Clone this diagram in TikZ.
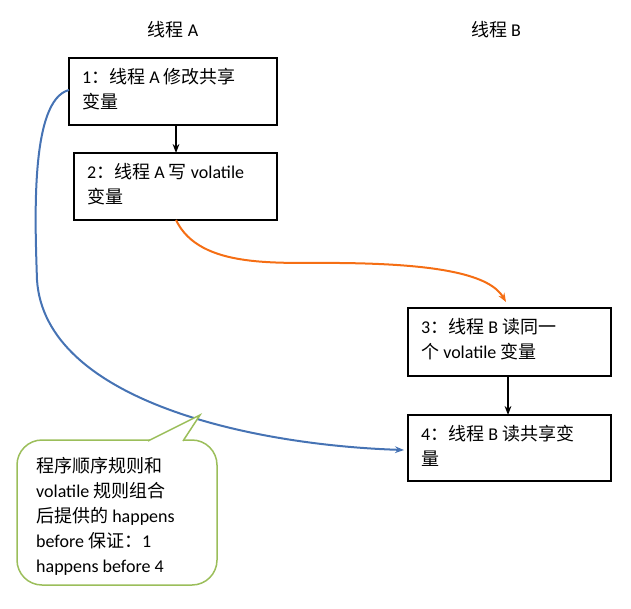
\documentclass[tikz,border=0pt]{standalone}
\usepackage{fontspec}
\setmainfont{Carlito}
\newfontfamily\cjk{Noto Sans CJK SC}
\newcommand{\zh}[1]{{\cjk #1}}
\usetikzlibrary{arrows.meta}
\begin{document}
\begin{tikzpicture}[x=1pt,y=-1pt,
  lbl/.style={anchor=north west,align=left,inner sep=0pt,font=\fontsize{18}{25}\selectfont},
  every node/.append style={font=\fontsize{18}{25}\selectfont}]
\useasboundingbox (0,0) rectangle (631,608);
\node (ha) at (173,30) {\zh{线程} A};
\node (hb) at (496,30) {\zh{线程} B};
\draw[line width=2pt] (69,58) rectangle (277,125);
\draw[line width=2pt] (74,153) rectangle (277,220);
\draw[line width=2pt] (408,308) rectangle (611,376);
\draw[line width=2pt] (408,415) rectangle (611,481);
\coordinate (b1t) at (176,125); \coordinate (b2t) at (176,153);
\coordinate (b2b) at (176,220); \coordinate (b3t) at (508,308);
\coordinate (b3b) at (508,376); \coordinate (b4t) at (508,415);
\coordinate (b1l) at (69,90); \coordinate (b4l) at (408,450);
\node[lbl] (t1) at (82,68) {1\zh{：线程} A \zh{修改共享}\\\zh{变量}};
\node[lbl] (t2) at (87,163) {2\zh{：线程} A \zh{写} volatile\\\zh{变量}};
\node[lbl] (t3) at (421,318) {3\zh{：线程} B \zh{读同一}\\\zh{个} volatile \zh{变量}};
\node[lbl] (t4) at (421,425) {4\zh{：线程} B \zh{读共享变}\\\zh{量}};
\draw[-{Stealth[length=9pt]},line width=2pt] (b1t) -- (b2t);
\draw[-{Stealth[length=9pt]},line width=2pt] (b3b) -- (b4t);
\draw[-{Stealth[length=9pt]},line width=2pt,color={rgb,255:red,245;green,110;blue,20}]
  (b2b) .. controls (200,270) and (280,262) .. (340,263) .. controls (440,264) and (490,275) .. (506,302);
\draw[-{Stealth[length=9pt]},line width=2pt,color={rgb,255:red,70;green,115;blue,180}]
  (b1l) .. controls (30,100) and (35,220) .. (37,280) .. controls (45,400) and (250,445) .. (404,450);
\draw[line width=1.5pt,color={rgb,255:red,155;green,190;blue,90},fill=white,rounded corners=25pt]
  (150,440) -- (217,440) -- (217,585) -- (17,585) -- (17,440) -- (150,440);
\draw[line width=1.5pt,color={rgb,255:red,155;green,190;blue,90},fill=white]
  (148,441) -- (200,415) -- (183,441);
\fill[white] (149,442) rectangle (182,445);
\node[lbl] (c) at (36,457) {\zh{程序顺序规则和}\\volatile \zh{规则组合}\\\zh{后提供的} happens\\before \zh{保证：}1\\happens before 4};
\end{tikzpicture}
\end{document}
